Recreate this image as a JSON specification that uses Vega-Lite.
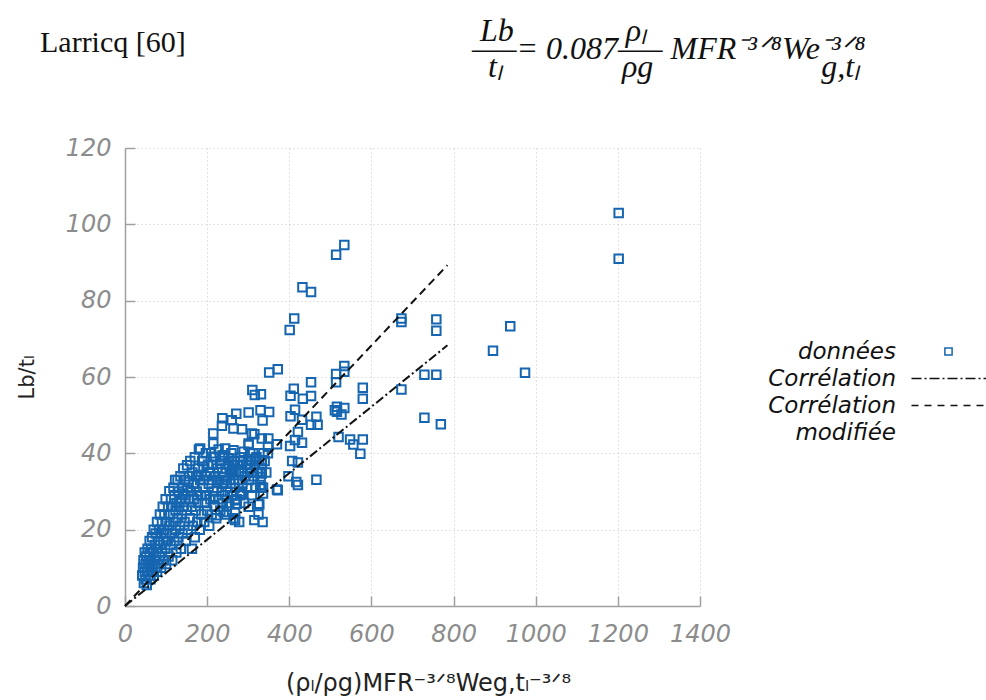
{
  "$schema": "https://vega.github.io/schema/vega-lite/v6.json",
  "width": 575,
  "height": 458,
  "autosize": {"type": "none"},
  "padding": {"left": 125, "top": 148, "right": 286, "bottom": 94},
  "background": "white",
  "title": {
    "text": "Larricq [60]",
    "subtitle": [
      "\u200b\u00a0\u00a0\u00a0\u00a0\u00a0\u00a0\u00a0\u00a0\u00a0\u00a0\u00a0\u00a0\u00a0\u00a0\u00a0\u00a0\u00a0\u00a0\u00a0\u00a0\u00a0\u00a0\u00a0\u00a0\u00a0\u00a0\u00a0\u00a0\u00a0\u00a0\u00a0\u00a0\u00a0\u00a0\u00a0\u00a0\u00a0\u00a0\u00a0\u00a0\u00a0\u00a0\u00a0\u00a0\u00a0\u00a0\u00a0\u00a0\u00a0\u00a0\u00a0\u00a0\u00a0\u00a0\u00a0Lb\u00a0\u00a0\u00a0\u00a0\u00a0\u00a0\u00a0\u00a0\u00a0\u00a0\u00a0\u00a0\u00a0\u00a0ρₗ",
      "\u200b\u00a0\u00a0\u00a0\u00a0\u00a0\u00a0\u00a0\u00a0\u00a0\u00a0\u00a0\u00a0\u00a0\u00a0\u00a0\u00a0\u00a0\u00a0\u00a0\u00a0\u00a0\u00a0\u00a0\u00a0\u00a0\u00a0\u00a0\u00a0\u00a0\u00a0\u00a0\u00a0\u00a0\u00a0\u00a0\u00a0\u00a0\u00a0\u00a0\u00a0\u00a0\u00a0\u00a0\u00a0\u00a0\u00a0\u00a0\u00a0\u00a0\u00a0\u00a0\u00a0\u00a0\u00a0—–=\u00a00.087—–\u00a0MFR⁻³ᐟ⁸We⁻³ᐟ⁸",
      "\u200b\u00a0\u00a0\u00a0\u00a0\u00a0\u00a0\u00a0\u00a0\u00a0\u00a0\u00a0\u00a0\u00a0\u00a0\u00a0\u00a0\u00a0\u00a0\u00a0\u00a0\u00a0\u00a0\u00a0\u00a0\u00a0\u00a0\u00a0\u00a0\u00a0\u00a0\u00a0\u00a0\u00a0\u00a0\u00a0\u00a0\u00a0\u00a0\u00a0\u00a0\u00a0\u00a0\u00a0\u00a0\u00a0\u00a0\u00a0\u00a0\u00a0\u00a0\u00a0\u00a0\u00a0\u00a0\u00a0\u00a0tₗ\u00a0\u00a0\u00a0\u00a0\u00a0\u00a0\u00a0\u00a0\u00a0\u00a0\u00a0\u00a0\u00a0\u00a0\u00a0ρg\u00a0\u00a0\u00a0\u00a0\u00a0\u00a0\u00a0\u00a0\u00a0\u00a0\u00a0\u00a0\u00a0\u00a0\u00a0\u00a0\u00a0\u00a0\u00a0\u00a0\u00a0g,tₗ"
    ],
    "anchor": "start",
    "frame": "group",
    "font": "Liberation Serif",
    "fontSize": 30,
    "fontWeight": "normal",
    "color": "#111111",
    "subtitleFont": "Liberation Serif",
    "subtitleFontStyle": "italic",
    "subtitleFontSize": 32,
    "subtitleColor": "#111111",
    "subtitleLineHeight": 18,
    "subtitlePadding": -42,
    "dx": -85,
    "offset": 40
  },
  "datasets": {
    "pts": [
      {"x":1202,"y":103},{"x":1202,"y":91},{"x":938,"y":73.3},{"x":896,"y":66.9},{"x":974,"y":61.1},
      {"x":673,"y":75.3},{"x":673,"y":74.4},{"x":758,"y":75.1},{"x":758,"y":72.1},{"x":729,"y":60.6},
      {"x":758,"y":60.6},{"x":673,"y":56.7},{"x":729,"y":49.3},{"x":769,"y":47.6},
      {"x":534,"y":94.6},{"x":514,"y":92},{"x":432,"y":83.5},{"x":453,"y":82.3},{"x":412,"y":75.3},{"x":401,"y":72.3},
      {"x":534,"y":62.9},{"x":534,"y":61.4},{"x":514,"y":60.8},{"x":514,"y":58.6},{"x":579,"y":57.2},{"x":579,"y":54.3},
      {"x":534,"y":51.9},{"x":527,"y":50.2},{"x":516,"y":52.2},{"x":516,"y":50.9},{"x":511,"y":51.3},
      {"x":520,"y":44.3},{"x":548,"y":43.6},{"x":556,"y":42.3},{"x":579,"y":43.6},{"x":573,"y":39.9},
      {"x":351,"y":61.2},{"x":372,"y":62.0},{"x":453,"y":58.6},{"x":310,"y":56.6},{"x":316,"y":55.3},{"x":331,"y":55.5},
      {"x":411,"y":56.9},{"x":403,"y":55.1},{"x":433,"y":54.3},{"x":453,"y":55.0},
      {"x":271,"y":50.4},{"x":301,"y":50.7},{"x":330,"y":51.3},{"x":351,"y":50.8},{"x":335,"y":48.6},{"x":414,"y":51.4},
      {"x":403,"y":49.7},{"x":431,"y":48.8},{"x":466,"y":49.6},{"x":453,"y":47.5},{"x":469,"y":47.5},
      {"x":421,"y":45.6},{"x":414,"y":43.5},{"x":402,"y":41.9},{"x":431,"y":42.8},
      {"x":407,"y":38.0},{"x":421,"y":37.6},{"x":398,"y":34.0},{"x":417,"y":32.5},{"x":421,"y":31.7},{"x":466,"y":33.1},
      {"x":372,"y":30.3},{"x":332,"y":31.2},{"x":336,"y":29.5},{"x":327,"y":26.6},
      {"x":264,"y":46.5},{"x":285,"y":46.3},{"x":315,"y":45.0},{"x":333,"y":43.9},{"x":349,"y":43.9},{"x":370,"y":42.4},
      {"x":348,"y":41.7},{"x":301,"y":42.6},{"x":305,"y":40.0},{"x":289,"y":40.4},{"x":317,"y":38.5},{"x":333,"y":38.2},
      {"x":305,"y":36.9},{"x":333,"y":34.7},{"x":264,"y":36.9},{"x":264,"y":34.3},{"x":285,"y":29.5},{"x":272,"y":26.8},{"x":325,"y":26.8},
      {"x":237,"y":49.2},{"x":260,"y":48.7},{"x":236,"y":47.2},{"x":215,"y":45.2},{"x":309,"y":45.2},{"x":215,"y":42.6},
      {"x":183,"y":41.3},{"x":244,"y":41.3},{"x":264,"y":40.8},{"x":301,"y":42.2},{"x":337,"y":40.0},{"x":238,"y":39.5},
      {"x":252,"y":38.7},{"x":280,"y":37.8},{"x":215,"y":39.1},{"x":151,"y":36.9},{"x":191,"y":36.5},{"x":232,"y":37.3},
      {"x":260,"y":35.6},{"x":207,"y":35.1},{"x":179,"y":34.3},{"x":240,"y":33.8},{"x":122,"y":33.0},{"x":155,"y":32.5},
      {"x":191,"y":33.0},{"x":224,"y":32.5},{"x":298,"y":34.9},{"x":329,"y":35.1},{"x":329,"y":31.7},{"x":370,"y":30.5},
      {"x":280,"y":29.0},{"x":268,"y":27.7},{"x":142,"y":29.5},{"x":175,"y":29.0},{"x":215,"y":28.6},
      {"x":108,"y":30.1},{"x":128,"y":33},{"x":223,"y":23.8},{"x":240,"y":24.6},{"x":268,"y":24.4},{"x":268,"y":22.5},
      {"x":301,"y":26},{"x":248,"y":26.1},
      {"x":42,"y":8},{"x":44,"y":10},{"x":45,"y":12},{"x":46,"y":6},{"x":48,"y":9},{"x":48,"y":14},{"x":50,"y":11},
      {"x":50,"y":7},{"x":52,"y":13},{"x":53,"y":5.5},{"x":54,"y":9},{"x":55,"y":15},{"x":56,"y":11},{"x":57,"y":8},
      {"x":58,"y":12},{"x":60,"y":10},{"x":60,"y":14},{"x":60,"y":17},
      {"x":62,"y":7},{"x":63,"y":12},{"x":64,"y":15},{"x":65,"y":9},{"x":66,"y":18},{"x":68,"y":11},{"x":69,"y":14},
      {"x":70,"y":8},{"x":70,"y":20},{"x":72,"y":12},{"x":73,"y":16},{"x":74,"y":10},{"x":75,"y":19},{"x":76,"y":13},
      {"x":78,"y":22},{"x":78,"y":9},{"x":80,"y":15},{"x":80,"y":17},{"x":82,"y":11},{"x":83,"y":20},{"x":84,"y":13},
      {"x":85,"y":24},{"x":86,"y":16},{"x":88,"y":10},{"x":88,"y":19},{"x":90,"y":14},{"x":90,"y":22},
      {"x":92,"y":26},{"x":93,"y":12},{"x":94,"y":17},{"x":95,"y":20},{"x":96,"y":24},{"x":98,"y":15},{"x":99,"y":28},
      {"x":100,"y":11},{"x":100,"y":19},{"x":102,"y":22},{"x":104,"y":17},{"x":105,"y":26},{"x":106,"y":13},{"x":108,"y":21},
      {"x":110,"y":24},{"x":111,"y":16},{"x":112,"y":28},{"x":114,"y":19},{"x":115,"y":12},{"x":116,"y":26},{"x":118,"y":22},
      {"x":118,"y":31},{"x":120,"y":17},{"x":120,"y":29},{"x":123,"y":25},{"x":124,"y":20},{"x":125,"y":14},
      {"x":126,"y":27},{"x":128,"y":23},
      {"x":130,"y":18},{"x":131,"y":30},{"x":132,"y":26},{"x":134,"y":21},{"x":135,"y":34},{"x":136,"y":15},{"x":137,"y":28},
      {"x":138,"y":24},{"x":140,"y":31},{"x":140,"y":19},{"x":142,"y":36},{"x":143,"y":26},{"x":145,"y":22},{"x":146,"y":33},
      {"x":147,"y":29},{"x":148,"y":17},{"x":150,"y":25},{"x":152,"y":31},{"x":153,"y":20},{"x":155,"y":28},
      {"x":156,"y":34},{"x":158,"y":23},{"x":159,"y":38},{"x":160,"y":30},{"x":162,"y":26},{"x":163,"y":15},{"x":164,"y":35},
      {"x":165,"y":21},{"x":167,"y":32},{"x":168,"y":28},{"x":170,"y":39},{"x":170,"y":18},{"x":172,"y":25},{"x":173,"y":34},
      {"x":175,"y":30},{"x":176,"y":22},{"x":178,"y":36},{"x":178,"y":27},{"x":180,"y":41},
      {"x":182,"y":20},{"x":183,"y":33},{"x":185,"y":29},{"x":186,"y":24},{"x":188,"y":38},{"x":190,"y":31},{"x":193,"y":22},
      {"x":194,"y":27},{"x":196,"y":34},{"x":197,"y":40},{"x":199,"y":29},{"x":200,"y":25},{"x":202,"y":37},{"x":204,"y":32},
      {"x":205,"y":21},{"x":207,"y":35},{"x":208,"y":28},{"x":210,"y":40},{"x":211,"y":24},{"x":213,"y":33},{"x":214,"y":37},
      {"x":216,"y":30},{"x":218,"y":26},{"x":219,"y":39},{"x":220,"y":34},{"x":222,"y":23},{"x":224,"y":31},{"x":225,"y":36},
      {"x":227,"y":28},{"x":228,"y":41},{"x":230,"y":33},{"x":232,"y":25},{"x":233,"y":38},{"x":235,"y":30},{"x":237,"y":35},
      {"x":238,"y":27},{"x":240,"y":32},
      {"x":242,"y":39},{"x":243,"y":29},{"x":245,"y":36},{"x":247,"y":24},{"x":248,"y":33},{"x":250,"y":30},{"x":252,"y":37},
      {"x":254,"y":27},{"x":255,"y":35},{"x":257,"y":32},{"x":259,"y":40},{"x":260,"y":29},{"x":262,"y":36},{"x":264,"y":23},
      {"x":265,"y":33},{"x":267,"y":38},{"x":268,"y":31},{"x":270,"y":35},{"x":272,"y":28},{"x":274,"y":37},{"x":276,"y":33},
      {"x":278,"y":22},{"x":280,"y":39},{"x":282,"y":30},{"x":284,"y":35},{"x":286,"y":32},{"x":288,"y":38},{"x":290,"y":27},
      {"x":292,"y":34},{"x":295,"y":37},{"x":297,"y":31},{"x":299,"y":36},
      {"x":302,"y":33},{"x":305,"y":38},{"x":307,"y":35},{"x":309,"y":29},{"x":312,"y":40},{"x":314,"y":34},{"x":316,"y":37},
      {"x":318,"y":31},{"x":320,"y":39},{"x":322,"y":35},{"x":325,"y":24},{"x":327,"y":38},{"x":330,"y":33},{"x":333,"y":36},
      {"x":336,"y":31},{"x":340,"y":38},{"x":344,"y":35},{"x":348,"y":40},{"x":315,"y":22.5},{"x":335,"y":22}
    ],
    "lines": [
      {"x":0,"y":0,"serie":"Corrélation"},
      {"x":785,"y":68.3,"serie":"Corrélation"},
      {"x":0,"y":0,"serie":"Corrélation modifiée"},
      {"x":785,"y":89.3,"serie":"Corrélation modifiée"}
    ]
  },
  "layer": [
    {
      "data": {"name": "pts"},
      "mark": {"type": "point", "shape": "square", "filled": false, "size": 72, "strokeWidth": 2, "color": "#1565b0", "opacity": 1},
      "encoding": {
        "x": {"field": "x", "type": "quantitative", "scale": {"domain": [0, 1400], "nice": false},
              "axis": {"values": [0,200,400,600,800,1000,1200,1400], "format": "d", "labelOverlap": false, "labelFlush": false,
                       "title": "(ρₗ/ρg)MFR⁻³ᐟ⁸Weg,tₗ⁻³ᐟ⁸", "titleFontSize": 24, "titlePadding": 25, "titleX": 303, "labelPadding": 26}},
        "y": {"field": "y", "type": "quantitative", "scale": {"domain": [0, 120], "nice": false},
              "axis": {"values": [0,20,40,60,80,100,120], "format": "d", "labelOverlap": false, "labelFlush": false,
                       "title": "Lb/tₗ", "titlePadding": 28, "labelPadding": 24}}
      }
    },
    {
      "data": {"name": "lines"},
      "mark": {"type": "line", "color": "#111111", "strokeWidth": 2},
      "encoding": {
        "x": {"field": "x", "type": "quantitative"},
        "y": {"field": "y", "type": "quantitative"},
        "detail": {"field": "serie", "type": "nominal"},
        "strokeDash": {"field": "serie", "type": "nominal", "legend": null,
                       "scale": {"domain": ["Corrélation", "Corrélation modifiée"], "range": [[9,3,2,3],[8,5]]}}
      }
    },
    {
      "data": {"name": "lines"},
      "transform": [{"filter": "false"}],
      "mark": {"type": "point", "filled": false, "opacity": 1, "strokeWidth": 1.5},
      "encoding": {
        "x": {"field": "x", "type": "quantitative"},
        "y": {"field": "y", "type": "quantitative"},
        "shape": {"field": "serie", "type": "nominal",
          "scale": {"domain": ["données", "Corrélation", "Corrélation modifiée", "modifiée"],
                    "range": ["M55.1,-0.9H56.9V0.9H55.1Z",
                              "M46.75,0H49.25M50,0H50.5M51.25,0H53.75M54.5,0H55M55.75,0H58.25M59,0H59.5M60.25,0H62.75M63.5,0H64M64.75,0H65.75",
                              "M46.75,0H48.5M50,0H51.75M53.25,0H55M56.5,0H58.25M59.75,0H61.5M63,0H64.75",
                              "M0,0"]},
          "legend": {"title": null, "orient": "none", "legendX": 588, "legendY": 192, "symbolSize": 64, "symbolStrokeWidth": 1.5,
                     "symbolFillColor": "transparent", "labelFont": "DejaVu Sans", "labelFontStyle": "italic", "labelFontSize": 23,
                     "labelColor": "#111111", "labelAlign": "right", "labelOffset": 160, "labelLimit": 0, "rowPadding": 3, "padding": 0,
                     "labelExpr": "datum.value == 'Corrélation modifiée' ? 'Corrélation' : datum.label"}},
        "color": {"field": "serie", "type": "nominal",
          "scale": {"domain": ["données", "Corrélation", "Corrélation modifiée", "modifiée"],
                    "range": ["#1565b0", "#111111", "#111111", "#ffffff"]},
          "legend": {"title": null, "orient": "none", "legendX": 588, "legendY": 192, "symbolSize": 64, "symbolStrokeWidth": 1.5,
                     "symbolFillColor": "transparent", "labelFont": "DejaVu Sans", "labelFontStyle": "italic", "labelFontSize": 23,
                     "labelColor": "#111111", "labelAlign": "right", "labelOffset": 160, "labelLimit": 0, "rowPadding": 3, "padding": 0,
                     "labelExpr": "datum.value == 'Corrélation modifiée' ? 'Corrélation' : datum.label"}}
      }
    }
  ],
  "config": {
    "view": {"stroke": null},
    "axis": {
      "domainColor": "#a0a0a0", "domainWidth": 1.5, "tickColor": "#a0a0a0", "tickWidth": 1.5, "tickSize": -10,
      "labelFont": "DejaVu Sans", "labelFontStyle": "italic", "labelFontSize": 24, "labelColor": "#8c8c8c",
      "gridColor": "#c4c4c4", "gridDash": [1, 3], "gridWidth": 1,
      "titleFont": "DejaVu Sans", "titleFontWeight": "normal", "titleColor": "#222222", "titleFontSize": 21
    }
  }
}
